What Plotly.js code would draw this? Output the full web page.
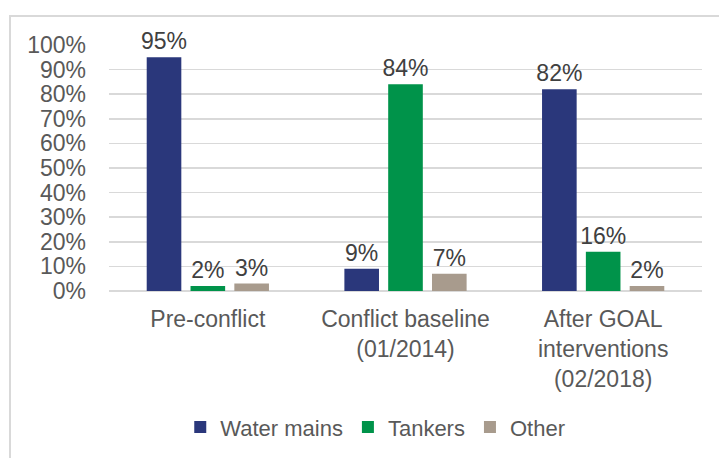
<!DOCTYPE html>
<html>
<head>
<meta charset="utf-8">
<script src="https://cdn.plot.ly/plotly-3.0.1.min.js"></script>
<style>
html,body{margin:0;padding:0;background:#fff;width:719px;height:458px;overflow:hidden;}
#frame{position:absolute;left:9px;top:15px;width:720px;height:450px;border:2px solid #d9d9d9;box-sizing:border-box;}
#chart{position:absolute;left:11px;top:17px;width:708px;height:441px;}
</style>
</head>
<body>
<div id="frame"></div>
<div id="chart"></div>
<script>
const categories = ["Pre-conflict", "Conflict baseline<br>(01/2014)", "After GOAL<br>interventions<br>(02/2018)"];
const waterMains = [95, 9, 82];
const tankers = [2, 84, 16];
const other = [3, 7, 2];
const seriesNames = ["Water mains", "Tankers", "Other"];
const colors = ["#2a377b", "#00934a", "#a89b8d"];
const yTicks = [0,10,20,30,40,50,60,70,80,90,100];

const font = {family: "Liberation Sans, Arial, sans-serif", size: 23, color: "#595959"};
const vals = [waterMains, tankers, other];
const traces = vals.map((v, i) => ({
  type: "bar",
  name: seriesNames[i],
  x: categories,
  y: v,
  marker: {color: colors[i]},
  texttemplate: "%{y}%",
  textposition: "outside",
  constraintext: "none",
  textfont: {family: font.family, size: 23, color: "#404040"},
  cliponaxis: false,
  hoverinfo: "skip"
}));

const layout = {
  width: 708, height: 441,
  margin: {l: 98, r: 17, t: 28, b: 166},
  paper_bgcolor: "rgba(0,0,0,0)",
  plot_bgcolor: "#fff",
  barmode: "group",
  bargap: 0.335,
  bargroupgap: 0.21,
  font: font,
  showlegend: true,
  legend: {orientation: "h", x: 0.449, xanchor: "center", y: -0.547, yanchor: "middle",
           font: {family: font.family, size: 22, color: "#595959"}, itemwidth: 30, tracegroupgap: 0},
  xaxis: {type: "category", showgrid: false, zeroline: false, showline: false, ticks: "",
          tickfont: font, automargin: false, ticklabelstandoff: 12},
  yaxis: {range: [0, 100], tickvals: yTicks, ticktext: yTicks.map(t => t + "%"),
          showgrid: true, gridcolor: "#d9d9d9", gridwidth: 1.5, zeroline: true, zerolinecolor: "#d9d9d9", zerolinewidth: 1.5,
          showline: false, ticks: "", tickfont: font, automargin: false, ticklabelstandoff: 22}
};

Plotly.newPlot("chart", traces, layout, {displayModeBar: false, staticPlot: true});
</script>
</body>
</html>
